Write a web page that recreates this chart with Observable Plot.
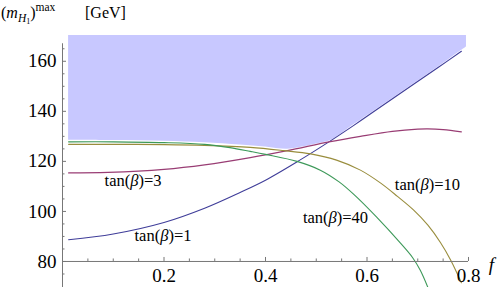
<!DOCTYPE html>
<html><head><meta charset="utf-8">
<script src="https://cdn.jsdelivr.net/npm/d3@7"></script>
<script src="https://cdn.jsdelivr.net/npm/@observablehq/plot@0.6"></script>
<style>body{margin:0;background:#fff} svg{display:block} svg text, svg tspan {font-family: "Liberation Serif", "Times New Roman", serif !important;}</style>
</head><body><div id="chart"></div>
<script>
// (f, m_H1 max)
const tanBeta1 = [[0.012,88.7],[0.1,91],[0.2,95.6],[0.28,101.3],[0.35,107.6],[0.4,112.5],[0.466,120.3],[0.528,128.2],[0.574,134.4],[0.62,140.8],[0.686,150],[0.74,157.5],[0.786,164]];
const tanBeta3 = [[0.012,115.4],[0.09,115.6],[0.2,116.8],[0.28,118.6],[0.37,121.5],[0.443,124.3],[0.528,127.9],[0.587,130],[0.65,132],[0.7,132.9],[0.72,133],[0.75,132.7],[0.786,131.8]];
const tanBeta10 = [[0.012,126.8],[0.1,126.8],[0.2,126.7],[0.28,126.4],[0.37,125.6],[0.436,124.3],[0.489,123],[0.54,120.5],[0.587,116.5],[0.627,111.3],[0.66,106],[0.692,100.5],[0.72,94.5],[0.745,87.5],[0.765,80.5],[0.786,71.5]];
const tanBeta40 = [[0.012,127.8],[0.1,127.8],[0.2,127.5],[0.28,126.8],[0.33,125.5],[0.37,124],[0.4,122.8],[0.462,120],[0.508,116.5],[0.545,111.8],[0.574,106.8],[0.62,97.5],[0.666,87.3],[0.69,81.5],[0.705,76.5],[0.72,69.6]];
const excludedLower = [[0.012,128.4],[0.1,128.3],[0.2,128.0],[0.28,127.4],[0.35,126.5],[0.4,125.7],[0.443,124.8],[0.47,125.6],[0.505,127.1],[0.528,128.3],[0.574,134.6],[0.62,140.9],[0.686,150.1],[0.74,157.6],[0.786,164.3],[0.796,165.7]];
const excludedTop = 170.3;

const seriesNames = ["1","3","10","40"];
const seriesColors = ["#3f3d99","#993d74","#998d3d","#3d9959"];
const seriesData = [tanBeta1, tanBeta3, tanBeta10, tanBeta40];

const curveLabels = [
  {text:"tan(β)=1", f:0.198, m:90.3},
  {text:"tan(β)=3", f:0.139, m:112.2},
  {text:"tan(β)=40", f:0.538, m:97.5},
  {text:"tan(β)=10", f:0.719, m:110.8}
];

const xMajorTicks = [0.2,0.4,0.6,0.8];
const xMinorTicks = [0.05,0.1,0.15,0.25,0.3,0.35,0.45,0.5,0.55,0.65,0.7,0.75];
const yMajorTicks = [80,100,120,140,160];
const yMinorTicks = [75,85,90,95,105,110,115,125,130,135,145,150,155,165];

const rows = seriesData.flatMap((pts, i) => pts.map(([f, m]) => ({f, m, s: seriesNames[i]})));

const serif = "Liberation Serif, Times New Roman, serif";
const axisColor = "#777";
const chart = Plot.plot({
  width: 498, height: 287,
  marginLeft: 62, marginRight: 30, marginTop: 35, marginBottom: 0,
  x: {domain: [0, 0.8], axis: null},
  y: {domain: [69.6, excludedTop], axis: null},
  style: "background: white; font-family: 'Liberation Serif', serif;",
  marks: [
    Plot.areaY(excludedLower, {x: d => d[0], y1: d => d[1], y2: () => excludedTop, fill: "#c8c8ff", curve: "catmull-rom"}),
    Plot.line(rows, {x: "f", y: "m", z: "s", stroke: d => seriesColors[seriesNames.indexOf(d.s)], strokeWidth: 1.1, curve: "catmull-rom", clip: true}),
    Plot.ruleY([80], {x1: 0, x2: 0.8, stroke: axisColor}),
    Plot.ruleX([0], {y1: 69.6, y2: 167, stroke: axisColor}),
    Plot.ruleX(xMajorTicks, {x: d => d, y1: 80, y2: 81.6, stroke: axisColor}),
    Plot.ruleX(xMinorTicks, {x: d => d, y1: 80, y2: 81.0, stroke: axisColor}),
    Plot.ruleY(yMajorTicks, {y: d => d, x1: 0, x2: 0.0079, stroke: axisColor}),
    Plot.ruleY(yMinorTicks, {y: d => d, x1: 0, x2: 0.0049, stroke: axisColor}),
    Plot.text(yMajorTicks, {x: 0, y: d => d, text: d => String(d), dx: -6, textAnchor: "end", fontSize: 19, fontVariant: "normal", fill: "black"}),
    Plot.text(xMajorTicks, {x: d => d, y: 80, text: d => String(d), dy: 14.5, fontSize: 19, fontVariant: "normal", fill: "black"}),
    Plot.text(["f"], {x: 0.845, y: 78.7, text: d => d, fontSize: 19, fontStyle: "italic", fill: "black"}),
    Plot.text(curveLabels, {x: "f", y: "m", text: "text", fontSize: 16.5, fill: "black"})
  ]
});
document.getElementById("chart").appendChild(chart);

const svg = d3.select(chart);
chart.setAttribute("font-family", serif);
svg.selectAll("text").each(function() {
  const s = this.textContent;
  if (s.includes("β")) {
    const [a, b] = s.split("β");
    const t = d3.select(this);
    this.textContent = "";
    t.append("tspan").text(a);
    t.append("tspan").attr("font-style", "italic").text("β");
    t.append("tspan").text(b);
  }
});

const title = svg.append("text").attr("x", 1).attr("y", 17.5)
  .attr("text-anchor", "start").attr("font-size", 16).attr("fill", "black");
title.append("tspan").text("(");
title.append("tspan").attr("font-style", "italic").text("m");
title.append("tspan").attr("font-style", "italic").attr("font-size", 11.5).attr("dy", 4.5).text("H");
title.append("tspan").attr("font-size", 8).attr("dy", 1.5).text("1");
title.append("tspan").attr("dy", -6).text(")");
title.append("tspan").attr("font-size", 11.5).attr("dy", -7).text("max");
title.append("tspan").attr("x", 85).attr("dy", 7).text("[GeV]");

svg.selectAll("text, tspan").attr("font-family", serif).style("font-family", serif);
</script></body></html>
